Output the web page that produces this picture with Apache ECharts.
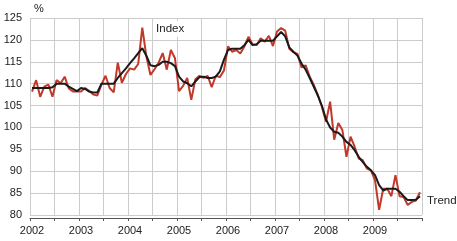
<!DOCTYPE html>
<html><head><meta charset="utf-8">
<script src="https://cdn.jsdelivr.net/npm/echarts@6/dist/echarts.min.js"></script>
<style>html,body{margin:0;padding:0;background:#fff}#c{width:457px;height:241px}</style>
</head><body><div id="c"></div>
<script>
// Monthly values, Jan 2002 .. Dec 2009
const startYear = 2002;
const endYear = 2010;
const indexValues = [
  108.2, 110.8, 107.0, 109.3, 109.8, 107.0, 110.8, 110.1, 111.6, 108.9, 108.2, 108.2,
  108.2, 109.0, 108.3, 107.5, 107.3, 109.8, 111.8, 109.0, 108.0, 114.8, 110.2, 112.2,
  113.5, 113.2, 114.5, 122.8, 116.2, 112.0, 113.3, 114.8, 117.0, 113.2, 117.7, 115.8,
  108.3, 109.5, 111.3, 106.3, 111.0, 111.8, 111.3, 111.8, 109.2, 111.8, 111.5, 113.0,
  118.5, 117.3, 117.7, 116.9, 118.5, 120.7, 119.0, 118.8, 120.4, 119.6, 120.9, 118.6,
  121.9, 122.7, 122.1, 118.0, 117.2, 116.8, 113.7, 114.2, 111.6, 109.7, 107.3, 104.7,
  101.3, 105.9, 97.2, 101.0, 99.4, 93.3, 97.9, 95.6, 92.9, 92.5, 90.6, 90.2,
  87.9, 81.2, 86.0, 86.0, 84.3, 89.1, 84.3, 84.1, 82.3, 83.0, 83.3, 85.2
];
const trendValues = [
  109.0, 109.0, 109.0, 109.0, 109.0, 109.2, 110.0, 110.0, 110.0, 109.3, 108.8, 108.3,
  109.0, 108.8, 108.2, 108.0, 108.0, 110.0, 110.0, 110.0, 110.0, 111.3, 112.4, 113.5,
  114.7, 115.8, 117.0, 118.1, 116.4, 114.2, 114.0, 114.3, 115.0, 115.0, 114.7, 114.0,
  111.6, 110.5, 110.1, 109.4, 110.5, 111.5, 111.6, 111.3, 111.3, 111.6, 112.8, 115.5,
  117.7, 118.0, 118.0, 118.0, 118.8, 120.0, 118.8, 119.0, 119.8, 119.8, 119.8, 119.8,
  120.8, 121.8, 120.8, 118.3, 117.3, 116.4, 114.6, 113.2, 111.3, 109.3, 107.3, 104.9,
  101.8, 100.0, 99.0, 98.8, 97.9, 96.7, 96.0, 94.8, 93.3, 92.1, 91.0, 90.2,
  89.1, 86.8, 85.6, 86.0, 86.0, 86.0, 85.3, 84.3, 83.4, 83.4, 83.5, 84.3
];
const yearLabels = [2002, 2003, 2004, 2005, 2006, 2007, 2008, 2009];
const seriesNames = ['Index', 'Trend'];
const indexLabelPos = [2004.86, 122.5];

const toXY = arr => arr.map((v, i) => [startYear + (i + 0.5) / 12, v]);

const chart = echarts.init(document.getElementById('c'), null, {renderer: 'canvas'});
const font = 'Liberation Sans, Arial, Helvetica, sans-serif';
chart.setOption({
  animation: false,
  backgroundColor: '#fff',
  grid: {left: 30, right: 35, top: 18, bottom: 26},
  xAxis: {
    type: 'value', min: startYear, max: endYear, interval: 0.5,
    offset: 3,
    axisLine: {show: true, lineStyle: {color: '#555', width: 1}},
    axisTick: {show: true, length: 3, lineStyle: {color: '#555'}},
    splitLine: {show: true, lineStyle: {color: '#cccccc', width: 1}},
    axisLabel: {
      color: '#222', fontFamily: font, fontSize: 11, margin: 7,
      padding: [0, 0, 0, 4],
      formatter: v => (yearLabels.indexOf(v) >= 0 ? String(v) : '')
    }
  },
  yAxis: {
    type: 'value', min: 80, max: 125, interval: 5,
    name: '%', nameLocation: 'end', nameGap: 4,
    nameTextStyle: {color: '#222', fontFamily: font, fontSize: 11, align: 'left', padding: [0, 0, 0, 4]},
    axisLine: {show: false}, axisTick: {show: false},
    splitLine: {show: true, lineStyle: {color: '#cccccc', width: 1}},
    axisLabel: {color: '#222', fontFamily: font, fontSize: 11, margin: 8}
  },
  series: [
    {
      name: seriesNames[0], type: 'line', data: toXY(indexValues),
      showSymbol: false, symbol: 'none',
      lineStyle: {color: '#c0392b', width: 2},
      z: 2,
      markPoint: {
        symbol: 'rect', symbolSize: 0,
        label: {show: true},
        data: [{
          coord: indexLabelPos,
          label: {
            show: true, formatter: seriesNames[0], position: 'inside',
            backgroundColor: '#fff', padding: [2, 3],
            color: '#222', fontFamily: font, fontSize: 11.5
          }
        }]
      }
    },
    {
      name: seriesNames[1], type: 'line', data: toXY(trendValues),
      showSymbol: false, symbol: 'none',
      lineStyle: {color: '#1a1a1a', width: 2},
      z: 3,
      endLabel: {
        show: true, formatter: seriesNames[1], distance: 7, offset: [0, 5],
        color: '#222', fontFamily: font, fontSize: 11.5
      }
    }
  ]
});
</script>
</body></html>
